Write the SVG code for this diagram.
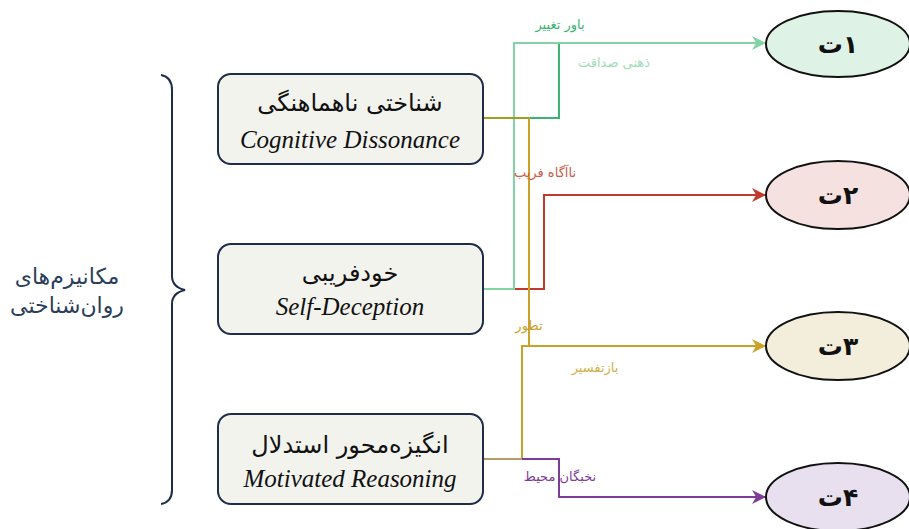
<svg xmlns="http://www.w3.org/2000/svg" width="909" height="529" viewBox="0 0 909 529">
<defs>
<style>
.box{fill:#f3f3ee;stroke:#1f2d4a;stroke-width:2}
.fa{font-family:"DejaVu Sans","Noto Sans",sans-serif;font-size:24px;fill:#111;text-anchor:middle}
.en{font-family:"Liberation Serif",serif;font-style:italic;font-size:25px;fill:#111;text-anchor:middle}
.ell{stroke:#111;stroke-width:2}
.et{font-family:"DejaVu Sans",sans-serif;font-weight:bold;font-size:25px;fill:#111;text-anchor:middle}
.e{fill:none;stroke-width:2}
.lb{font-family:"DejaVu Sans",sans-serif;font-size:13px;text-anchor:middle}
</style>
<marker id="aLG" viewBox="0 0 10 10" refX="10" refY="5" markerWidth="7" markerHeight="7" markerUnits="strokeWidth" orient="auto"><path d="M0,0 L10,5 L0,10 L3,5 Z" fill="#82d4a4"/></marker>
<marker id="aR" viewBox="0 0 10 10" refX="10" refY="5" markerWidth="7" markerHeight="7" markerUnits="strokeWidth" orient="auto"><path d="M0,0 L10,5 L0,10 L3,5 Z" fill="#c0392b"/></marker>
<marker id="aY" viewBox="0 0 10 10" refX="10" refY="5" markerWidth="7" markerHeight="7" markerUnits="strokeWidth" orient="auto"><path d="M0,0 L10,5 L0,10 L3,5 Z" fill="#c9a227"/></marker>
<marker id="aP" viewBox="0 0 10 10" refX="10" refY="5" markerWidth="7" markerHeight="7" markerUnits="strokeWidth" orient="auto"><path d="M0,0 L10,5 L0,10 L3,5 Z" fill="#7d3c98"/></marker>
</defs>
<rect width="909" height="529" fill="#fff"/>

<g id="group-label">
<path d="M161,75 Q172,77 172,90 L172,276 Q172,287 185,290 Q172,293 172,304 L172,490 Q172,502 161,504" fill="none" stroke="#1f2d4a" stroke-width="2"/>
<text x="67" y="284" font-family="DejaVu Sans,sans-serif" font-size="22" fill="#2c3e5a" text-anchor="middle">مکانیزم‌های</text>
<text x="67" y="313" font-family="DejaVu Sans,sans-serif" font-size="22" fill="#2c3e5a" text-anchor="middle">روان‌شناختی</text>
</g>

<g id="connectors">
<path class="e" stroke="#3cb371" d="M483,118 L559,118 L559,43 L700,43"/>
<path class="e" stroke="#c0392b" d="M483,289 L544,289 L544,195 L766,195" marker-end="url(#aR)"/>
<path class="e" stroke="#82d4a4" d="M483,289 L514,289 L514,43 L766,43" marker-end="url(#aLG)"/>
<path class="e" stroke="#c9a227" d="M483,118 L529,118 L529,346 L766,346" marker-end="url(#aY)"/>
<path class="e" stroke="#c9a227" d="M483,459 L522,459 L522,346 L600,346"/>
<path class="e" stroke="#7d3c98" d="M483,459 L559,459 L559,497 L766,497" marker-end="url(#aP)"/>
<path class="e" stroke="#9aa020" d="M483,118 L529,118"/>
<path class="e" stroke="#b79a6a" d="M483,459 L522,459"/>
<text class="lb" x="560" y="29" fill="#3cb371">باور تغییر</text>
<text class="lb" x="614" y="67" fill="#9fdcb8">ذهنی صداقت</text>
<text class="lb" x="545" y="177" fill="#cc5a4c">ناآگاه فریب</text>
<text class="lb" x="529" y="330" fill="#c9a227">تطور</text>
<text class="lb" x="595" y="372" fill="#d1b04e">بازتفسیر</text>
<text class="lb" x="560" y="481" fill="#7d3c98">نخبگان محیط</text>
</g>

<g id="n-cd">
<rect class="box" x="218" y="74" width="265" height="90" rx="13"/>
<text class="fa" x="350" y="111">شناختی ناهماهنگی</text>
<text class="en" x="350" y="148">Cognitive Dissonance</text>
</g>
<g id="n-sd">
<rect class="box" x="218" y="244" width="265" height="90" rx="13"/>
<text class="fa" x="350" y="281">خودفریبی</text>
<text class="en" x="350" y="315">Self-Deception</text>
</g>
<g id="n-mr">
<rect class="box" x="218" y="414" width="265" height="90" rx="13"/>
<text class="fa" x="350" y="453">انگیزه‌محور استدلال</text>
<text class="en" x="350" y="487">Motivated Reasoning</text>
</g>

<g id="o1"><ellipse class="ell" cx="838" cy="44" rx="72" ry="33" fill="#def2e6"/><text class="et" x="838" y="53" direction="rtl">۱ت</text></g>
<g id="o2"><ellipse class="ell" cx="838" cy="195" rx="72" ry="34" fill="#f5e1df"/><text class="et" x="838" y="204" direction="rtl">۲ت</text></g>
<g id="o3"><ellipse class="ell" cx="838" cy="346" rx="72" ry="34" fill="#f3eedc"/><text class="et" x="838" y="355" direction="rtl">۳ت</text></g>
<g id="o4"><ellipse class="ell" cx="838" cy="497" rx="72" ry="34" fill="#e8e0ee"/><text class="et" x="838" y="506" direction="rtl">۴ت</text></g>
</svg>
